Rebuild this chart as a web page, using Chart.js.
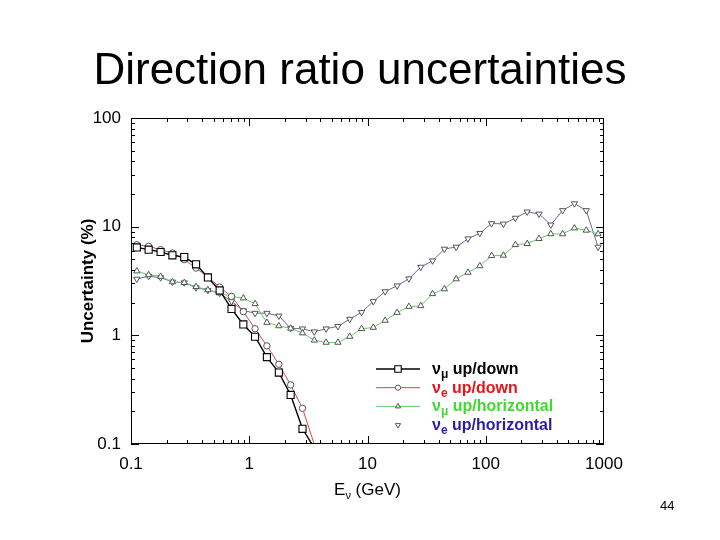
<!DOCTYPE html>
<html>
<head>
<meta charset="utf-8">
<script src="https://cdn.jsdelivr.net/npm/chart.js@4.4.1/dist/chart.umd.min.js"></script>
<style>
  body { margin: 0; background: #fff; }
  #wrap { position: relative; width: 720px; height: 540px; }
  #title { position: absolute; left: 0; top: 47px; width: 720px; text-align: center;
    font: 44px "Liberation Sans", Arial, sans-serif; line-height: 44px; color: #000; }
  #page { position: absolute; left: 660px; top: 498px; font: 13px "Liberation Sans", Arial, sans-serif; color: #000; }
  canvas { position: absolute; left: 0; top: 0; }
</style>
</head>
<body>
<div id="wrap">
  <canvas id="myChart" width="720" height="540"></canvas>
  <div id="title">Direction ratio uncertainties</div>
  <div id="page">44</div>
</div>
<script>
'use strict';
// ---------- Data ------------- //
let energies = [0.112, 0.141, 0.178, 0.224, 0.282, 0.355, 0.447, 0.562, 0.708, 0.891,
  1.12, 1.41, 1.78, 2.24, 2.82, 3.55, 4.47, 5.62, 7.08, 8.91,
  11.2, 14.1, 17.8, 22.4, 28.2, 35.5, 44.7, 56.2, 70.8, 89.1,
  112, 141, 178, 224, 282, 355, 447, 562, 708, 891];

let numuUpDown = [6.44, 6.14, 5.85, 5.45, 5.25, 4.5, 3.41, 2.59, 1.75, 1.26,
  0.97, 0.63, 0.454, 0.283, 0.138, 0.092];
let nueUpDown = [6.82, 6.59, 6.14, 5.72, 4.97, 4.16, 3.44, 2.78, 2.28, 1.65,
  1.15, 0.8, 0.542, 0.35, 0.213, 0.099];
let numuUpHor = [3.9, 3.6, 3.48, 3.1, 3.05, 2.8, 2.62, 2.45, 2.28, 2.2,
  1.95, 1.31, 1.22, 1.16, 1.05, 0.9, 0.86, 0.86, 0.975, 1.15,
  1.18, 1.37, 1.62, 1.84, 1.87, 2.41, 2.67, 3.3, 3.79, 4.35,
  5.4, 5.44, 6.82, 6.97, 7.75, 8.57, 8.57, 9.7, 9.25, 8.57];
let nueUpHor = [3.3, 3.5, 3.4, 3.1, 3.05, 2.75, 2.6, 2.45, 2.05, 1.69,
  1.6, 1.6, 1.51, 1.16, 1.15, 1.08, 1.15, 1.21, 1.41, 1.63,
  2.05, 2.53, 2.86, 3.32, 4.25, 4.86, 6.23, 6.5, 7.75, 8.7,
  10.7, 10.6, 12.0, 13.7, 13.1, 10.4, 14.1, 16.3, 14.1, 6.5];

let xTicks = [0.1, 1, 10, 100, 1000];
let xTickLabels = ['0.1', '1', '10', '100', '1000'];
let yTicks = [0.1, 1, 10, 100];
let yTickLabels = ['0.1', '1', '10', '100'];

let FONT = '"Liberation Sans", Arial, Helvetica, sans-serif';

function toPoints(values){
    return values.map((v, i) => ({x: energies[i], y: v}));
}

function hideBelow(r){
    return ctx => (ctx.raw && ctx.raw.y < 0.1) ? 0 : r;
}

// legend rows: subscript, rest of label, text colour
let legendRows = [
    {sub: '\u03bc', text: 'up/down', color: '#000000', line: true},
    {sub: 'e', text: 'up/down', color: '#e4161c', line: true},
    {sub: '\u03bc', text: 'up/horizontal', color: '#3ddc2c', line: true},
    {sub: 'e', text: 'up/horizontal', color: '#2a1ea6', line: false}
];

// ---------- Plugins ------------- //
let frameTicks = {
    id: 'frameTicks',
    afterDraw(chart){
        let ctx = chart.ctx;
        let a = chart.chartArea;
        let xs = chart.scales.x;
        let ys = chart.scales.y;
        ctx.save();
        ctx.strokeStyle = '#000';
        ctx.lineWidth = 1;
        ctx.strokeRect(a.left + 0.5, a.top + 0.5, a.right - a.left - 1, a.bottom - a.top - 1);
        ctx.beginPath();
        for (let e = -1; e <= 2; e++){
            for (let m = 1; m <= 9; m++){
                let v = m * Math.pow(10, e);
                let len = m === 1 ? 8 : 4;
                let px = Math.round(xs.getPixelForValue(v)) + 0.5;
                ctx.moveTo(px, a.bottom); ctx.lineTo(px, a.bottom - len);
                ctx.moveTo(px, a.top); ctx.lineTo(px, a.top + len);
                if (e <= 1){
                    let py = Math.round(ys.getPixelForValue(v)) + 0.5;
                    ctx.moveTo(a.left, py); ctx.lineTo(a.left + len, py);
                    ctx.moveTo(a.right, py); ctx.lineTo(a.right - len, py);
                }
            }
        }
        ctx.stroke();

        // x axis title with subscript nu
        ctx.fillStyle = '#000';
        ctx.textBaseline = 'alphabetic';
        ctx.font = '17px ' + FONT;
        let wE = ctx.measureText('E').width;
        ctx.font = '11px ' + FONT;
        let wNu = ctx.measureText('\u03bd').width;
        ctx.font = '17px ' + FONT;
        let wRest = ctx.measureText(' (GeV)').width;
        let x0 = (a.left + a.right) / 2 - (wE + wNu + wRest) / 2;
        let by = 495;
        ctx.fillText('E', x0, by);
        ctx.font = '11px ' + FONT;
        ctx.fillText('\u03bd', x0 + wE, by + 4);
        ctx.font = '17px ' + FONT;
        ctx.fillText(' (GeV)', x0 + wE + wNu, by);

        // legend
        let sets = chart.data.datasets;
        legendRows.forEach((row, i) => {
            let ds = sets[i];
            let y = 369 + i * 18.7;
            if (row.line){
                ctx.strokeStyle = ds.borderColor;
                ctx.lineWidth = ds.borderWidth;
                ctx.beginPath();
                ctx.moveTo(376, y); ctx.lineTo(420, y);
                ctx.stroke();
            }
            ctx.strokeStyle = ds.pointBorderColor;
            ctx.fillStyle = '#fff';
            ctx.lineWidth = ds.pointBorderWidth;
            Chart.helpers.drawPoint(ctx, {
                pointStyle: ds.pointStyle, radius: ds.legendRadius,
                rotation: ds.pointRotation || 0, borderWidth: ds.pointBorderWidth
            }, 398, y);
            ctx.fillStyle = row.color;
            ctx.font = 'bold 16px ' + FONT;
            ctx.fillText('\u03bd', 432, y + 5);
            let wv = ctx.measureText('\u03bd').width;
            ctx.font = 'bold 12px ' + FONT;
            ctx.fillText(row.sub, 432 + wv, y + 9);
            let ws = ctx.measureText(row.sub).width;
            ctx.font = 'bold 16px ' + FONT;
            ctx.fillText(' ' + row.text, 432 + wv + ws, y + 5);
        });
        ctx.restore();
    }
};

// ---------- Chart ------------- //
let ctx = document.getElementById('myChart').getContext('2d');
let myChart = new Chart(ctx, {
    type: 'line',
    data: {
        datasets: [{
            label: 'numu up/down',
            data: toPoints(numuUpDown),
            borderColor: '#000000',
            borderWidth: 1.4,
            pointStyle: 'rect',
            pointRadius: hideBelow(5),
            legendRadius: 4.6,
            pointBorderColor: '#000000',
            pointBorderWidth: 1.1,
            pointBackgroundColor: '#ffffff'
        }, {
            label: 'nue up/down',
            data: toPoints(nueUpDown),
            borderColor: '#d24848',
            borderWidth: 1,
            pointStyle: 'circle',
            pointRadius: hideBelow(3.2),
            legendRadius: 2.6,
            pointBorderColor: '#555555',
            pointBorderWidth: 1,
            pointBackgroundColor: '#ffffff'
        }, {
            label: 'numu up/horizontal',
            data: toPoints(numuUpHor),
            borderColor: '#62cc62',
            borderWidth: 1,
            pointStyle: 'triangle',
            pointRadius: 3.6,
            legendRadius: 3,
            pointBorderColor: '#555555',
            pointBorderWidth: 1,
            pointBackgroundColor: '#ffffff'
        }, {
            label: 'nue up/horizontal',
            data: toPoints(nueUpHor),
            borderColor: '#6868a6',
            borderWidth: 1,
            pointStyle: 'triangle',
            pointRotation: 180,
            pointRadius: 3.6,
            legendRadius: 3,
            pointBorderColor: '#555555',
            pointBorderWidth: 1,
            pointBackgroundColor: '#ffffff'
        }]
    },
    options: {
        responsive: false,
        devicePixelRatio: 1,
        animation: false,
        layout: { padding: { left: 70, right: 116, top: 118, bottom: 30 } },
        plugins: { legend: { display: false }, tooltip: { enabled: false } },
        elements: { line: { tension: 0 } },
        scales: {
            x: {
                type: 'logarithmic',
                min: 0.1,
                max: 1000,
                afterBuildTicks: s => { s.ticks = xTicks.map(v => ({value: v})); },
                afterFit: s => { s.height = 66; },
                grid: { display: false, drawTicks: false },
                border: { display: false },
                ticks: {
                    autoSkip: false,
                    maxRotation: 0,
                    padding: 10,
                    color: '#000',
                    font: { family: FONT, size: 17 },
                    callback: (v) => xTickLabels[xTicks.indexOf(v)]
                }
            },
            y: {
                type: 'logarithmic',
                min: 0.1,
                max: 100,
                afterBuildTicks: s => { s.ticks = yTicks.map(v => ({value: v})); },
                afterFit: s => { s.width = 61; },
                grid: { display: false, drawTicks: false },
                border: { display: false },
                title: {
                    display: true,
                    text: 'Uncertainty (%)',
                    color: '#000',
                    font: { family: FONT, size: 17, weight: 'bold' },
                    padding: { top: 8, bottom: 0 }
                },
                ticks: {
                    autoSkip: false,
                    padding: 10,
                    color: '#000',
                    font: { family: FONT, size: 17 },
                    callback: (v) => yTickLabels[yTicks.indexOf(v)]
                }
            }
        }
    },
    plugins: [frameTicks]
});
</script>
</body>
</html>
